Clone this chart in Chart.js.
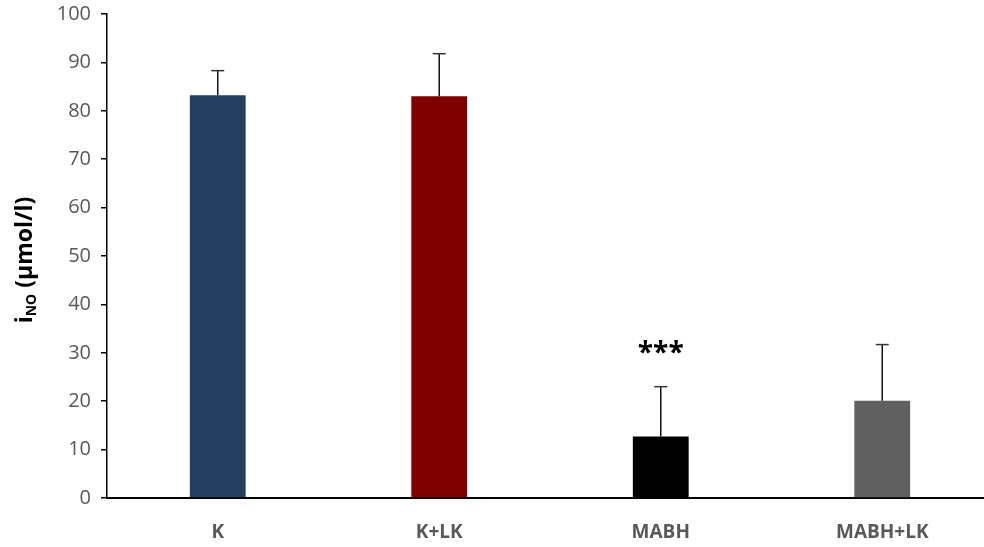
<!DOCTYPE html>
<html>
<head>
<meta charset="utf-8">
<script src="https://cdn.jsdelivr.net/npm/chart.js@4/dist/chart.umd.min.js"></script>
<style>
    html, body { margin: 0; padding: 0; background: #fff; overflow: hidden; }
    #wrap { width: 1000px; height: 547px; position: relative; }
</style>
</head>
<body>
<div id="wrap"><canvas id="noChart"></canvas></div>
<script>
const groups = ['K', 'K+LK', 'MABH', 'MABH+LK'];
const means = [83.2, 83.0, 12.7, 20.1];
const sdUp = [5.1, 8.8, 10.3, 11.6];
const sigMarks = ['', '', '***', ''];
const barColors = ['#243f60', '#7f0000', '#000000', '#606060'];
const yTicks = [0, 10, 20, 30, 40, 50, 60, 70, 80, 90, 100];

const textGray = '#595959';
const fontFamily = '"Open Sans", "Liberation Sans", sans-serif';

// upward-only error bars plus the significance stars
const errorBars = {
    id: 'errorBars',
    afterDatasetsDraw(chart) {
        const ctx = chart.ctx;
        const meta = chart.getDatasetMeta(0);
        const y = chart.scales.y;
        ctx.save();
        meta.data.forEach((bar, i) => {
            const x = bar.x;
            const top = y.getPixelForValue(means[i]);
            const end = y.getPixelForValue(means[i] + sdUp[i]);
            ctx.strokeStyle = '#111';
            ctx.lineWidth = 1.5;
            ctx.beginPath();
            ctx.moveTo(x, top);
            ctx.lineTo(x, end);
            ctx.stroke();
            ctx.strokeStyle = '#333';
            ctx.beginPath();
            ctx.moveTo(x - 6.5, end);
            ctx.lineTo(x + 6.5, end);
            ctx.stroke();
            if (sigMarks[i]) {
                ctx.fillStyle = '#000';
                ctx.font = 'bold 28px ' + fontFamily;
                ctx.textAlign = 'center';
                ctx.textBaseline = 'middle';
                ctx.fillText(sigMarks[i], x, end - 33);
            }
        });
        ctx.restore();
    }
};

// y title with subscript: i_NO (µmol/l)
const yTitle = {
    id: 'yTitle',
    afterDraw(chart) {
        const ctx = chart.ctx;
        const cy = (chart.chartArea.top + chart.chartArea.bottom) / 2 + 4;
        ctx.save();
        ctx.translate(32, cy);
        ctx.rotate(-Math.PI / 2);
        ctx.fillStyle = '#000';
        ctx.textBaseline = 'alphabetic';
        const big = 'bold 23px ' + fontFamily;
        const small = 'bold 14px ' + fontFamily;
        ctx.font = big;
        const w1 = ctx.measureText('i').width;
        ctx.font = small;
        const w2 = ctx.measureText('NO').width;
        ctx.font = big;
        const w3 = ctx.measureText(' (µmol/l)').width;
        let x = -(w1 + w2 + w3) / 2;
        ctx.textAlign = 'left';
        ctx.fillText('i', x, 0);
        x += w1;
        ctx.font = small;
        ctx.fillText('NO', x, 4);
        x += w2;
        ctx.font = big;
        ctx.fillText(' (µmol/l)', x, 0);
        ctx.restore();
    }
};

new Chart(document.getElementById('noChart'), {
    type: 'bar',
    data: {
        labels: groups,
        datasets: [{
            data: means,
            backgroundColor: barColors,
            borderWidth: 0,
            categoryPercentage: 1,
            barPercentage: 0.252
        }]
    },
    options: {
        responsive: true,
        maintainAspectRatio: false,
        animation: false,
        layout: { padding: { top: 14, right: 7, left: 0, bottom: 0 } },
        plugins: {
            legend: { display: false },
            tooltip: { enabled: false }
        },
        scales: {
            x: {
                grid: { display: false },
                border: { color: '#000', width: 2 },
                ticks: {
                    color: textGray,
                    font: { family: fontFamily, size: 19, weight: 'bold' },
                    padding: 15
                },
                afterFit: s => { s.height = 49; s.paddingLeft = 0; s.paddingRight = 0; }
            },
            y: {
                min: 0,
                max: 100,
                afterBuildTicks: s => { s.ticks = yTicks.map(v => ({ value: v })); },
                grid: { drawOnChartArea: false, drawTicks: true, tickLength: 6, color: '#000', lineWidth: 1.5 },
                border: { color: '#000', width: 1.5 },
                ticks: {
                    color: textGray,
                    font: { family: fontFamily, size: 20 },
                    padding: 10
                },
                afterFit: s => { s.width = 107; s.paddingTop = 0; s.paddingBottom = 0; }
            }
        }
    },
    plugins: [errorBars, yTitle]
});
</script>
</body>
</html>
